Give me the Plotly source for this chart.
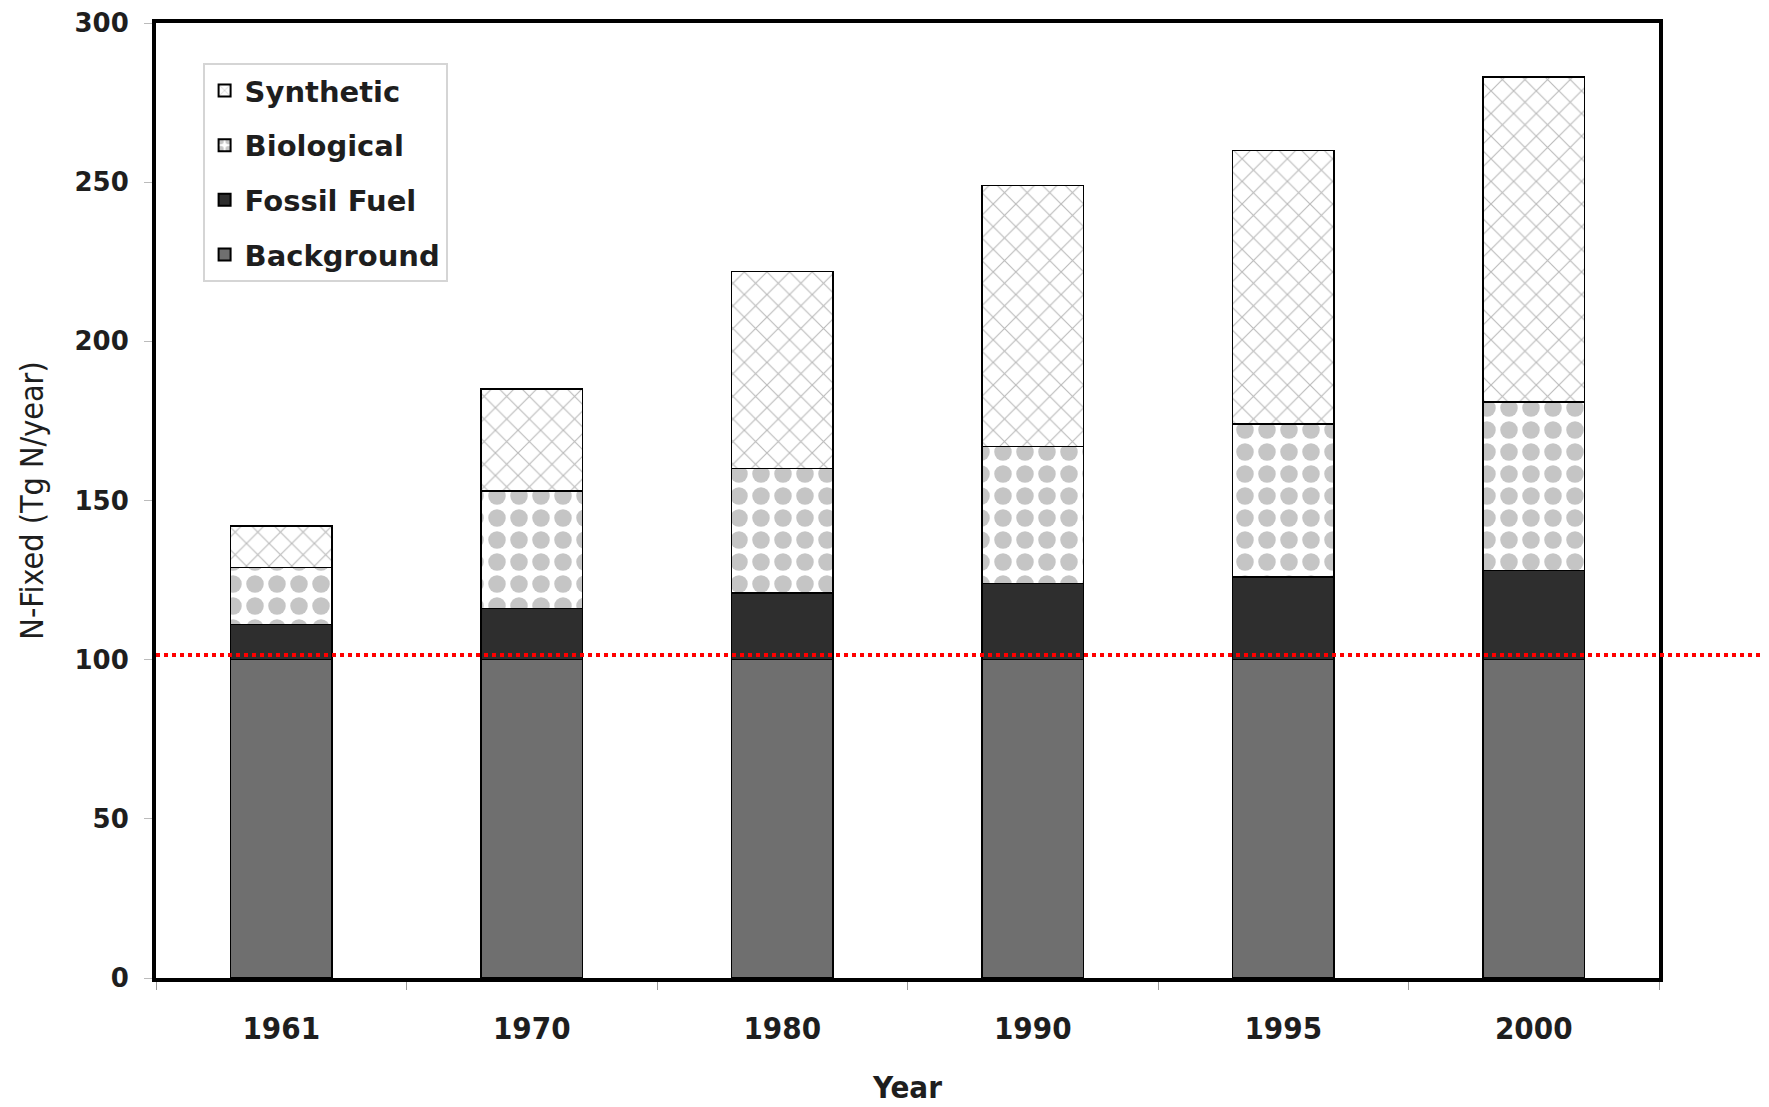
import plotly.graph_objects as go

years = ["1961", "1970", "1980", "1990", "1995", "2000"]
background = [100, 100, 100, 100, 100, 100]
fossil_fuel = [11, 16, 21, 24, 26, 28]
biological = [18, 37, 39, 43, 48, 53]
synthetic = [13, 32, 62, 82, 86, 102]
baseline = 101.5

fig = go.Figure()
line_style = dict(color="black", width=1.5)
fig.add_trace(go.Bar(x=years, y=background, name="Background", legendgroup="bg", legendrank=4,
                     marker=dict(color="#6f6f6f", line=line_style)))
fig.add_trace(go.Bar(x=years, y=fossil_fuel, name="Fossil Fuel", legendgroup="ff", legendrank=3,
                     marker=dict(color="#2e2e2e", line=line_style)))
fig.add_trace(go.Bar(x=years, y=biological, name="Biological", legendgroup="bio", legendrank=2,
                     marker=dict(color="white", line=line_style,
                                 pattern=dict(shape=".", fgcolor="#8c8c8c", bgcolor="white",
                                              size=22, solidity=0.5))))
fig.add_trace(go.Bar(x=years, y=synthetic, name="Synthetic", legendgroup="syn", legendrank=1,
                     marker=dict(color="white", line=line_style,
                                 pattern=dict(shape="x", fgcolor="#777777", bgcolor="white",
                                              size=16, solidity=0.14))))

fig.add_shape(type="line", xref="paper", yref="y", x0=0, x1=1.08, y0=baseline, y1=baseline,
              line=dict(color="red", width=4, dash="dot"))

narrow = "Liberation Sans Narrow, DejaVu Sans Condensed, sans-serif"
wide = "DejaVu Sans, Liberation Sans, sans-serif"
fig.update_layout(
    barmode="stack",
    bargap=0.595,
    width=1769, height=1107,
    margin=dict(l=148, r=118, t=15, b=137),
    plot_bgcolor="white", paper_bgcolor="white",
    font=dict(family=wide, color="#1e1e1e"),
    legend=dict(x=0.031, y=0.958, xanchor="left", yanchor="top",
                traceorder="grouped", bgcolor="white",
                bordercolor="#d5d5d5", borderwidth=2,
                font=dict(size=29, family=wide, color="#1e1e1e", weight="bold"),
                itemsizing="constant", tracegroupgap=14, itemwidth=30),
    showlegend=True,
)
fig.update_xaxes(showline=True, linecolor="black", linewidth=4, mirror=True, automargin=False,
                 ticks="outside", tickson="boundaries", ticklen=8, tickcolor="#999",
                 tickfont=dict(size=31, family=narrow, weight="bold"), ticklabelstandoff=20,
                 title=dict(text="Year", font=dict(size=31, family=narrow, weight="bold"), standoff=32))
fig.update_yaxes(range=[0, 300], dtick=50, showgrid=False, zeroline=False, automargin=False,
                 showline=True, linecolor="black", linewidth=4, mirror=True,
                 ticks="outside", ticklen=8, tickcolor="#bbb", ticklabeloverflow="allow",
                 tickfont=dict(size=26, weight="bold"), ticklabelstandoff=10,
                 title=dict(text="N-Fixed (Tg N/year)", font=dict(size=32, family=narrow), standoff=22))

fig.write_html("out.html")
